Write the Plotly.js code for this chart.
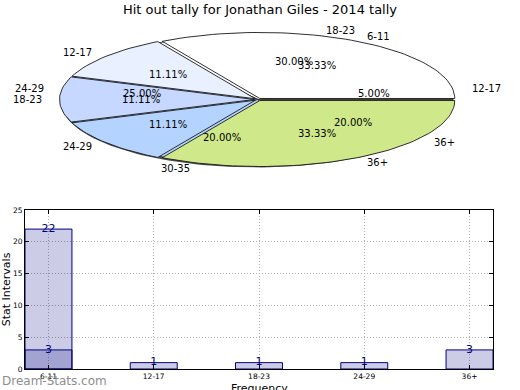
<!DOCTYPE html>
<html>
<head>
<meta charset="utf-8">
<script src="https://cdn.plot.ly/plotly-3.0.1.min.js"></script>
<style>html,body{margin:0;padding:0;background:#fff;}#chart{width:520px;height:390px;}</style>
</head>
<body>
<div id="chart"></div>
<script>
// ---- data ----
const chartTitle = 'Hit out tally for Jonathan Giles - 2014 tally';
const xTitle = 'Frequency';
const yTitle = 'Stat Intervals';
const categories = ['6-11', '12-17', '18-23', '24-29', '36+'];
const totalCategories = ['6-11'];
const totalValues = [22];
const intervalValues = [3, 1, 1, 1, 3];

const pie1Labels = ['6-11', '12-17', '18-23', '24-29', '36+'];
const pie1Values = [3, 1, 1, 1, 3];
const pie1Colors = ['#ffffff', '#e9f0ff', '#c6d8ff', '#b4d4ff', '#cfe98a'];

const pie2Labels = ['12-17', '18-23', '24-29', '30-35', '36+'];
const pie2Values = [1, 6, 5, 4, 4];
const pie2Colors = ['#8a8a8a', '#ffffff', '#c6d8ff', '#b4d4ff', '#cfe98a'];

const watermark = 'Dream-Stats.com';

// ---- helpers ----
const font = 'DejaVu Sans, sans-serif';
const rad = d => d * Math.PI / 180;
const R = 1.3; // pie axis half-range (unit radius = pie radius)

function wedge(a0, a1, explode, r) {
  const m = rad((a0 + a1) / 2);
  const cx = explode * Math.cos(m), cy = explode * Math.sin(m);
  const xs = [cx], ys = [cy];
  const n = Math.max(2, Math.ceil((a1 - a0) / 2));
  for (let i = 0; i <= n; i++) {
    const a = rad(a0 + (a1 - a0) * i / n);
    xs.push(cx + r * Math.cos(a));
    ys.push(cy + r * Math.sin(a));
  }
  xs.push(cx); ys.push(cy);
  return {xs, ys};
}

const traces = [];
const annotations = [];

// shadow
(function () {
  const xs = [], ys = [];
  for (let i = 0; i <= 180; i++) {
    const a = rad(i * 2);
    xs.push(-0.012 + Math.cos(a));
    ys.push(-0.03 + Math.sin(a));
  }
  traces.push({type: 'scatter', mode: 'lines', x: xs, y: ys, xaxis: 'x2', yaxis: 'y2',
    fill: 'toself', fillcolor: 'rgba(50,50,50,0.85)', line: {width: 0}, hoverinfo: 'skip', showlegend: false});
})();

function drawPie(labels, values, colors, explode, edge) {
  const tot = values.reduce((a, b) => a + b, 0);
  let start = 0;
  values.forEach((v, i) => {
    const span = 360 * v / tot;
    const end = start + span;
    const w = wedge(start, end, explode, 1);
    traces.push({type: 'scatter', mode: 'lines', x: w.xs, y: w.ys, xaxis: 'x2', yaxis: 'y2',
      fill: 'toself', fillcolor: colors[i], line: {color: edge, width: 0.9},
      hoverinfo: 'skip', showlegend: false});
    const m = rad(start + span / 2);
    const lx = 1.1 * Math.cos(m), ly = 1.1 * Math.sin(m);
    annotations.push({xref: 'x2', yref: 'y2', x: lx, y: ly, text: labels[i], showarrow: false,
      xanchor: lx > 0 ? 'left' : 'right', yanchor: 'middle', font: {family: font, size: 10, color: '#000'}});
    annotations.push({xref: 'x2', yref: 'y2', x: 0.6 * Math.cos(m), y: 0.6 * Math.sin(m),
      text: (100 * v / tot).toFixed(2) + '%', showarrow: false, xanchor: 'center', yanchor: 'middle',
      font: {family: font, size: 10, color: '#000'}});
    start = end;
  });
}

drawPie(pie2Labels, pie2Values, pie2Colors, 0.0, '#333');
drawPie(pie1Labels, pie1Values, pie1Colors, 0.018, '#1a1a1a');

// bars
traces.push({type: 'bar', x: totalCategories, y: totalValues, width: 0.446,
  marker: {color: 'rgba(0,0,128,0.2)', line: {color: '#000080', width: 1}}, hoverinfo: 'skip', showlegend: false});
traces.push({type: 'bar', x: categories, y: intervalValues, width: 0.446,
  marker: {color: 'rgba(0,0,128,0.2)', line: {color: '#000080', width: 1}}, hoverinfo: 'skip', showlegend: false});
traces.push({type: 'scatter', mode: 'text', x: totalCategories, y: totalValues, text: totalValues.map(String),
  textposition: 'middle center', textfont: {family: font, size: 11, color: '#000080'}, cliponaxis: false,
  hoverinfo: 'skip', showlegend: false});
traces.push({type: 'scatter', mode: 'text', x: categories, y: intervalValues, text: intervalValues.map(String),
  textposition: 'middle center', textfont: {family: font, size: 11, color: '#000080'}, cliponaxis: false,
  hoverinfo: 'skip', showlegend: false});

annotations.push({xref: 'paper', yref: 'paper', x: 0, y: 0.0, xanchor: 'left', yanchor: 'bottom',
  text: watermark, showarrow: false, font: {family: font, size: 12, color: '#8e8e8e'}});
annotations.push({xref: 'paper', yref: 'paper', x: 259 / 520, y: 2 / 390, xanchor: 'center', yanchor: 'middle',
  text: xTitle, showarrow: false, font: {family: font, size: 11, color: '#000'}});

const cx = 258, rx = 195, cyPx = 99.5, ry = 66;
const layout = {
  width: 520, height: 390,
  margin: {l: 0, r: 0, t: 0, b: 0},
  paper_bgcolor: '#fff', plot_bgcolor: '#fff',
  barmode: 'overlay',
  title: {text: chartTitle, x: 0.5, xanchor: 'center', y: 0.975, yanchor: 'middle',
    font: {family: font, size: 13, color: '#000'}},
  xaxis: {domain: [25 / 520, 493 / 520], anchor: 'y', type: 'category', categoryorder: 'array',
    categoryarray: categories, range: [-0.223, 4.223],
    showline: true, linecolor: '#000', linewidth: 1, mirror: 'ticks',
    ticks: 'inside', ticklen: 4, tickcolor: '#000',
    showgrid: true, gridcolor: '#b0b0b0', griddash: '1px,2px', gridwidth: 1,
    tickfont: {family: font, size: 7.5, color: '#000'},
    zeroline: false, fixedrange: true},
  yaxis: {domain: [21 / 390, 180 / 390], anchor: 'x', range: [0, 25], dtick: 5,
    showline: true, linecolor: '#000', linewidth: 1, mirror: 'ticks',
    ticks: 'inside', ticklen: 4, tickcolor: '#000',
    showgrid: true, gridcolor: '#b0b0b0', griddash: '1px,2px', gridwidth: 1,
    tickfont: {family: font, size: 7.5, color: '#000'},
    title: {text: yTitle, font: {family: font, size: 11, color: '#000'}, standoff: 2},
    zeroline: false, fixedrange: true},
  xaxis2: {domain: [(cx - R * rx) / 520, (cx + R * rx) / 520], anchor: 'y2', range: [-R, R], visible: false, fixedrange: true},
  yaxis2: {domain: [(390 - cyPx - R * ry) / 390, (390 - cyPx + R * ry) / 390], anchor: 'x2', range: [-R, R], visible: false, fixedrange: true},
  annotations: annotations,
  showlegend: false
};

Plotly.newPlot('chart', traces, layout, {displayModeBar: false, staticPlot: true});
</script>
</body>
</html>
